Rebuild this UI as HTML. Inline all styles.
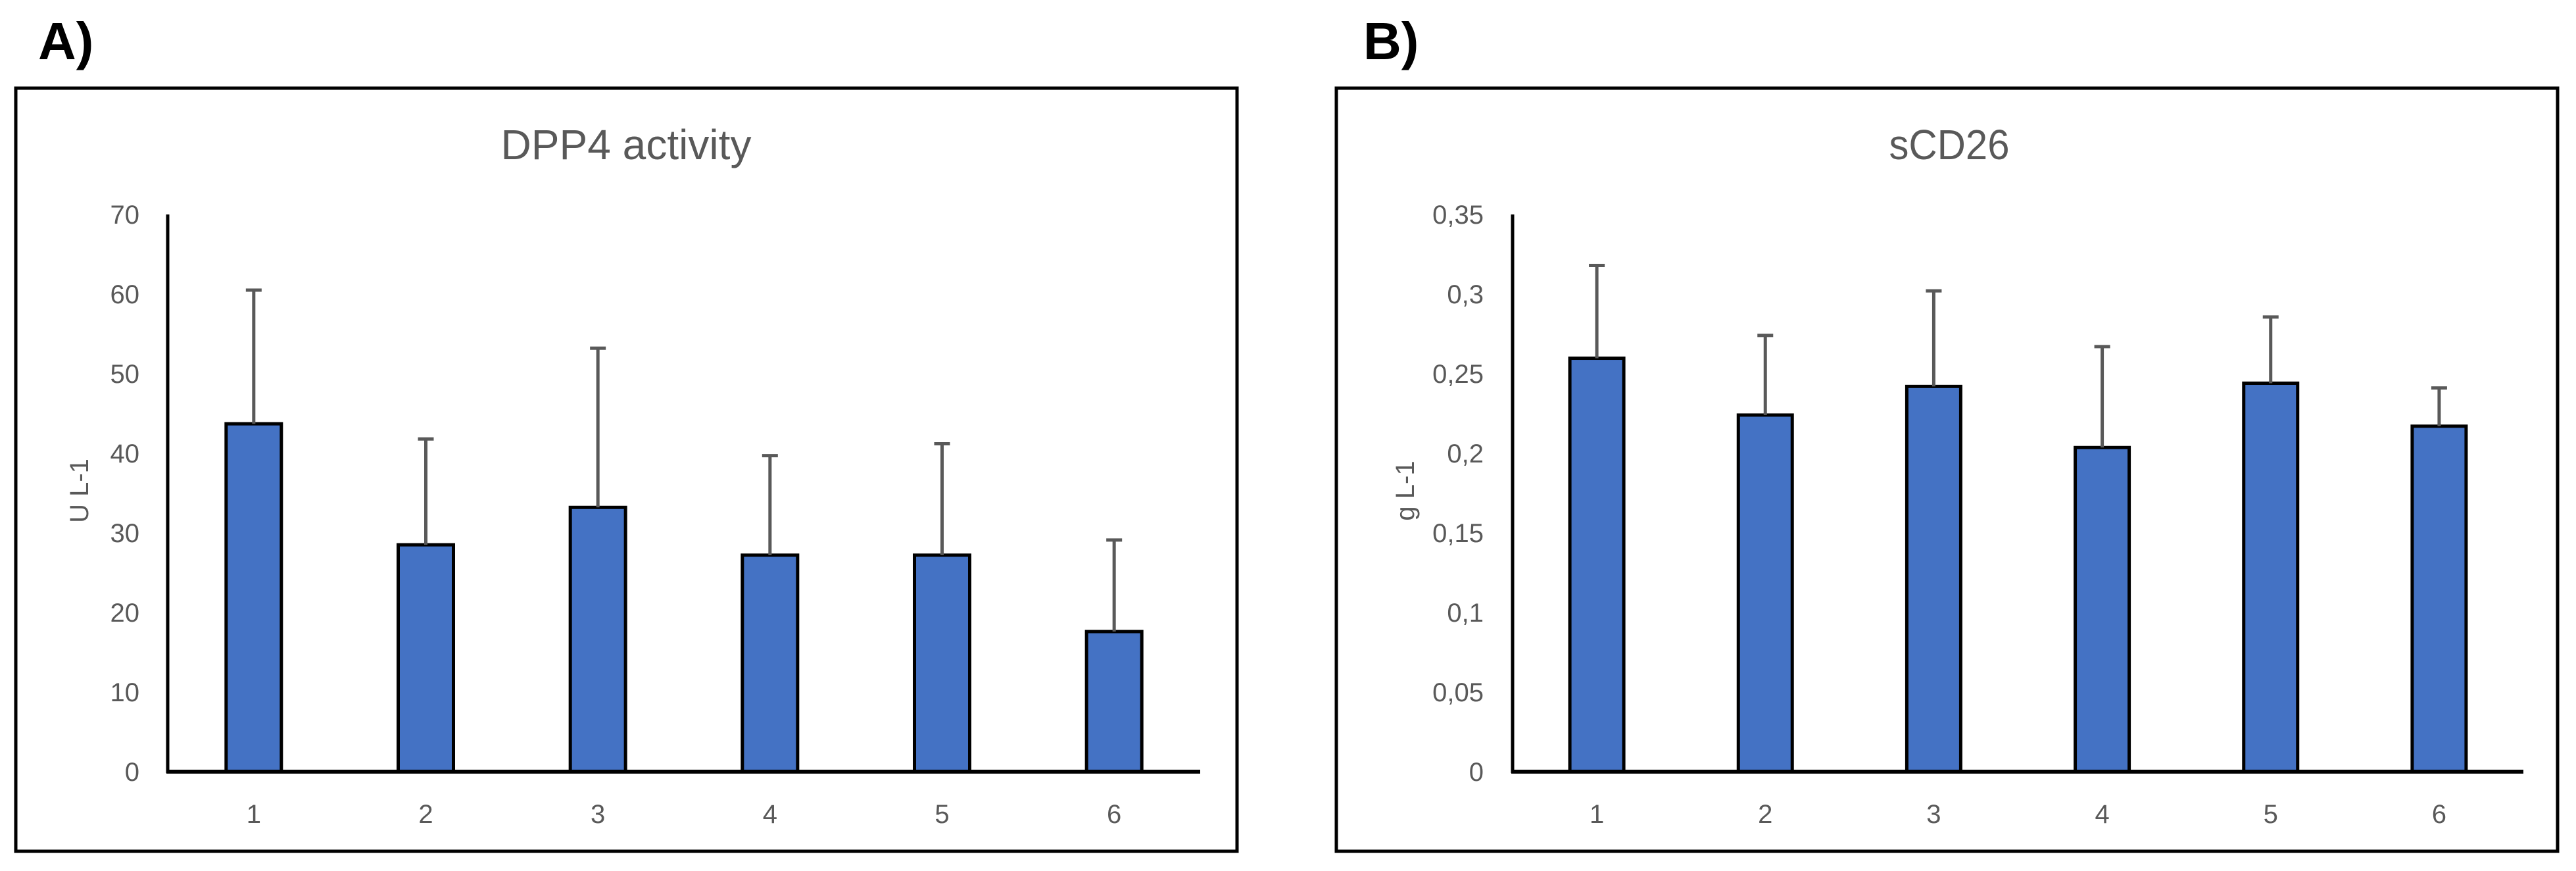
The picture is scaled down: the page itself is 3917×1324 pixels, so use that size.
<!DOCTYPE html>
<html><head><meta charset="utf-8"><style>
html,body{margin:0;padding:0;background:#fff;}
svg{display:block;}
text{font-family:"Liberation Sans Narrow","Liberation Sans",sans-serif;}
</style></head><body>
<svg id="fig" width="3917" height="1324" viewBox="0 0 3917 1324" xmlns="http://www.w3.org/2000/svg">
<text x="58" y="90" font-size="80" font-weight="bold" font-family="Liberation Sans, sans-serif">A)</text>
<text x="2073" y="90" font-size="80" font-weight="bold" font-family="Liberation Sans, sans-serif">B)</text>
<rect x="24" y="134" width="1857" height="1160" fill="none" stroke="#000" stroke-width="5"/>
<rect x="2032" y="134" width="1857" height="1160" fill="none" stroke="#000" stroke-width="5"/>
<g id="chartA"></g>
<g id="chartB"></g>
</svg>
<script>
const categories = ["1","2","3","4","5","6"];
const dppValues = [43.7, 28.5, 33.2, 27.2, 27.2, 17.6];
const dppErrTop = [60.5, 41.8, 53.2, 39.7, 41.2, 29.1];
const dppTicks = [0,10,20,30,40,50,60,70];
const dppTickLabels = ["0","10","20","30","40","50","60","70"];
const cdValues = [0.2597, 0.224, 0.242, 0.2036, 0.244, 0.217];
const cdErrTop = [0.318, 0.274, 0.302, 0.267, 0.2856, 0.241];
const cdTicks = [0,0.05,0.1,0.15,0.2,0.25,0.3,0.35];
const cdTickLabels = ["0","0,05","0,1","0,15","0,2","0,25","0,3","0,35"];

const NS = "http://www.w3.org/2000/svg";
function mk(tag, attrs, parent){const e=document.createElementNS(NS,tag);for(const k in attrs)e.setAttribute(k,attrs[k]);parent.appendChild(e);return e;}

function drawChart(g, cfg){
  const yScale = v => cfg.y0 - (v - 0) / cfg.ymax * (cfg.y0 - cfg.y1);
  const step = (cfg.x1 - cfg.x0) / categories.length;
  const xCenter = i => cfg.x0 + step * (i + 0.5);
  let t = mk('text',{x:cfg.titleX,y:242,'font-size':64,fill:'#595959','text-anchor':'middle',textLength:cfg.titleLen,lengthAdjust:'spacingAndGlyphs'},g);
  t.textContent = cfg.title;
  
  
  let yt = mk('text',{x:0,y:0,'font-size':40,fill:'#595959','text-anchor':'middle',transform:`translate(${cfg.ytX},746) rotate(-90)`},g);
  yt.textContent = cfg.ytitle;
  
  
  cfg.ticks.forEach((v,i)=>{
    const tl = mk('text',{x:cfg.labelRight,y:yScale(v)+14,'font-size':40,fill:'#595959','text-anchor':'end'},g);
    tl.textContent = cfg.tickLabels[i];
    
    
  });
  cfg.values.forEach((v,i)=>{
    const cx = xCenter(i);
    const top = yScale(v);
    const b = mk('rect',{x:cx-cfg.bw/2,y:top,width:cfg.bw,height:cfg.y0-top,fill:'#4472C4',stroke:'#000','stroke-width':5},g);
    
    
    const et = yScale(cfg.err[i]);
    const el = mk('path',{d:`M${cx},${top} V${et} M${cx-12},${et} H${cx+12}`,stroke:'#595959','stroke-width':5,fill:'none'},g);
    
    
    const xl = mk('text',{x:cx,y:1251,'font-size':40,fill:'#595959','text-anchor':'middle'},g);
    xl.textContent = categories[i];
    
    
  });
  const ya = mk('line',{x1:cfg.x0,y1:cfg.y1,x2:cfg.x0,y2:cfg.y0+2,stroke:'#000','stroke-width':5},g);
  
  
  const xa = mk('line',{x1:cfg.x0-2,y1:cfg.y0,x2:cfg.x1,y2:cfg.y0,stroke:'#000','stroke-width':6},g);
  
  
}
drawChart(document.getElementById('chartA'),{title:'DPP4 activity',titleLen:381,titleX:952,ytitle:'U L-1',ytX:134,labelRight:212,
  x0:255,x1:1825,y0:1173,y1:326,ymax:70,bw:84,values:dppValues,err:dppErrTop,ticks:dppTicks,tickLabels:dppTickLabels});
drawChart(document.getElementById('chartB'),{title:'sCD26',titleLen:183,titleX:2964,ytitle:'g L-1',ytX:2150,labelRight:2256,
  x0:2300,x1:3837,y0:1173,y1:326,ymax:0.35,bw:82,values:cdValues,err:cdErrTop,ticks:cdTicks,tickLabels:cdTickLabels});
</script>
</body></html>
